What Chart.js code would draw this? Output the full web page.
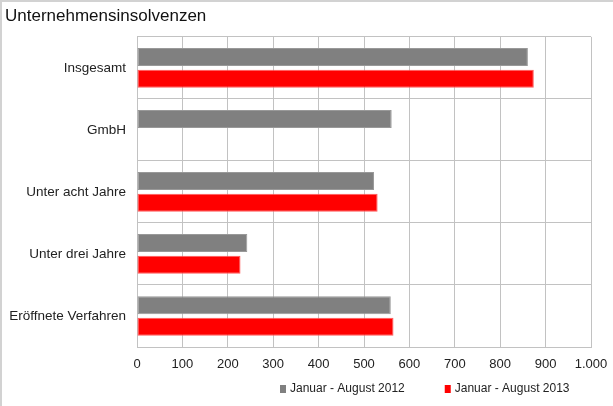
<!DOCTYPE html>
<html>
<head>
<meta charset="utf-8">
<script src="https://cdn.jsdelivr.net/npm/chart.js@4"></script>
<style>
  html, body { margin: 0; padding: 0; background: #fff; }
  #wrap { width: 613px; height: 406px; }
</style>
</head>
<body>
<div id="wrap"><canvas id="chart" width="613" height="406"></canvas></div>
<script>
// Unternehmensinsolvenzen - values
const categories = ['Insgesamt', 'GmbH', 'Unter acht Jahre', 'Unter drei Jahre', 'Eröffnete Verfahren'];
const values2012 = [861, 561, 522, 243, 559];
const values2013 = [874, null, 530, 228, 565];
const seriesLabels = ['Januar - August 2012', 'Januar - August 2013'];
const xTicks = [0, 100, 200, 300, 400, 500, 600, 700, 800, 900, 1000];

const FONT = '"Liberation Sans", Arial, sans-serif';
const GRID = '#c2c2c2';

// german thousands separator: 1000 -> 1.000
function fmt(v) {
    return String(v).replace(/\B(?=(\d{3})+(?!\d))/g, '.');
}

// frame line on top and left edge of the picture
const framePlugin = {
    id: 'frame',
    beforeDraw(chart) {
        const ctx = chart.ctx;
        ctx.save();
        ctx.strokeStyle = '#d2d2d2';
        ctx.lineWidth = 2;
        ctx.beginPath();
        ctx.moveTo(chart.width, 1);
        ctx.lineTo(1, 1);
        ctx.lineTo(1, chart.height);
        ctx.stroke();
        ctx.restore();
    }
};

// legend below the x axis, drawn from the datasets
const bottomLegend = {
    id: 'bottomLegend',
    afterDraw(chart) {
        const ctx = chart.ctx;
        const area = chart.chartArea;
        const gap = 40;
        ctx.save();
        ctx.font = '12px ' + FONT;
        ctx.textBaseline = 'middle';
        let x = area.left + 143;
        const y = chart.height - 17;
        chart.data.datasets.forEach(ds => {
            ctx.fillStyle = ds.backgroundColor;
            ctx.fillRect(x, y - 4, 6, 8);
            ctx.fillStyle = '#222';
            ctx.fillText(ds.label, x + 10, y);
            x += 10 + ctx.measureText(ds.label).width + gap;
        });
        ctx.restore();
    }
};

new Chart(document.getElementById('chart'), {
    type: 'bar',
    data: {
        labels: categories,
        datasets: [
            {
                label: seriesLabels[0],
                data: values2012,
                backgroundColor: '#808080',
                borderColor: '#999999',
                borderWidth: 1,
                borderSkipped: false
            },
            {
                label: seriesLabels[1],
                data: values2013,
                backgroundColor: '#ff0000',
                borderColor: '#ff5a5a',
                borderWidth: 1,
                borderSkipped: false
            }
        ]
    },
    options: {
        indexAxis: 'y',
        responsive: false,
        animation: false,
        categoryPercentage: 0.7,
        barPercentage: 0.83,
        layout: { padding: { left: 5, right: 22, top: 0, bottom: 30 } },
        scales: {
            x: {
                min: 0,
                max: 1000,
                afterBuildTicks(scale) {
                    scale.ticks = xTicks.map(v => ({ value: v }));
                },
                afterFit(scale) {
                    scale.height = 29;
                    scale.paddingLeft = 0;
                    scale.paddingRight = 0;
                },
                grid: { color: GRID, lineWidth: 1, drawTicks: false },
                border: { color: GRID },
                ticks: {
                    padding: 10,
                    color: '#222',
                    font: { family: FONT, size: 13 },
                    callback: v => fmt(v),
                    maxRotation: 0
                }
            },
            y: {
                afterFit(scale) { scale.width = 132; },
                grid: { color: GRID, lineWidth: 1, drawTicks: false, offset: true },
                border: { color: GRID },
                ticks: {
                    padding: 11,
                    color: '#222',
                    font: { family: FONT, size: 13.5 }
                }
            }
        },
        plugins: {
            legend: { display: false },
            tooltip: { enabled: false },
            title: {
                display: true,
                text: 'Unternehmensinsolvenzen',
                align: 'start',
                color: '#111',
                font: { family: FONT, size: 17, weight: 'normal' },
                padding: { top: 6, bottom: 10.5 }
            }
        }
    },
    plugins: [framePlugin, bottomLegend]
});
</script>
</body>
</html>
